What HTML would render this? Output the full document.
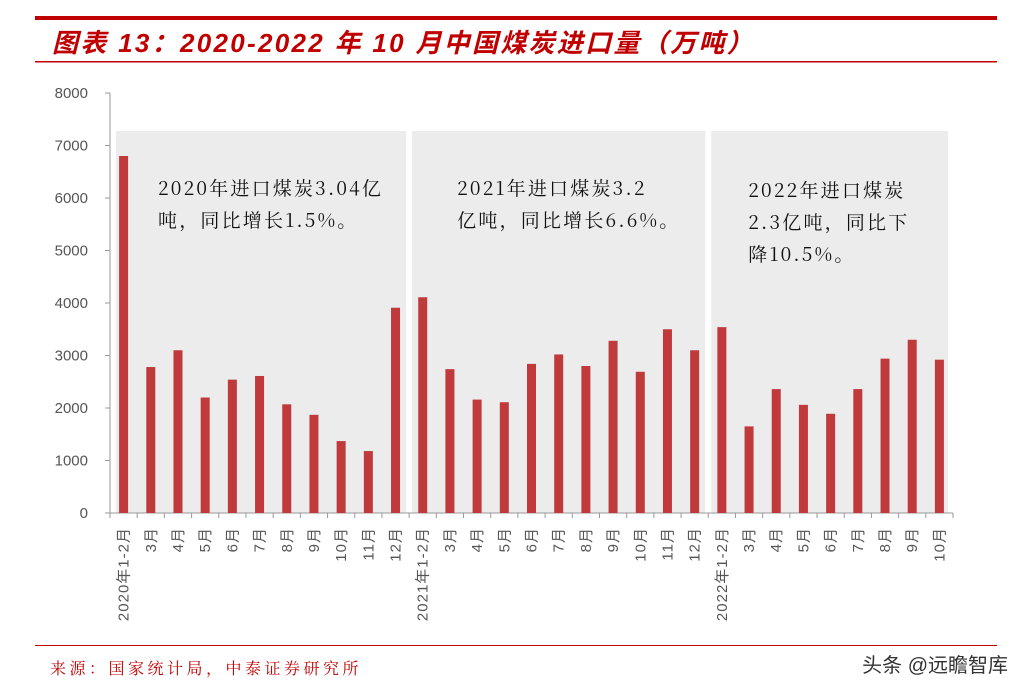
<!DOCTYPE html>
<html><head><meta charset="utf-8"><style>
body{margin:0;background:#fff;}
svg{display:block;font-family:"Liberation Sans","Noto Sans CJK SC",sans-serif;}
</style></head><body>
<svg width="1029" height="694">
<rect x="35" y="16" width="962" height="4" fill="#c00000"/>
<text x="52" y="52" font-size="26" font-weight="bold" font-style="italic" fill="#c00000" letter-spacing="2.3">图表 13：2020-2022 年 10 月中国煤炭进口量（万吨）</text>
<rect x="35" y="61" width="962" height="1.5" fill="#c00000"/>
<g id="plot"></g>
<rect x="35" y="645" width="962" height="1" fill="#c00000"/>
<text x="50" y="674" font-size="16" fill="#c00000" letter-spacing="3.5" font-family="'Noto Serif CJK SC','Liberation Serif',serif">来源：国家统计局，中泰证券研究所</text>
<text x="1008" y="672" font-size="20" fill="#333" text-anchor="end">头条 @远瞻智库</text>
</svg>
<script>
const categories=["2020年1-2月","3月","4月","5月","6月","7月","8月","9月","10月","11月","12月","2021年1-2月","3月","4月","5月","6月","7月","8月","9月","10月","11月","12月","2022年1-2月","3月","4月","5月","6月","7月","8月","9月","10月"];
const imports=[6800,2780,3100,2200,2540,2610,2070,1870,1370,1180,3910,4110,2740,2160,2110,2840,3020,2800,3280,2690,3500,3100,3540,1650,2360,2060,1890,2360,2940,3300,2920];
const yTicks=[0,1000,2000,3000,4000,5000,6000,7000,8000];
const groups=[[0,10,"2020年进口煤炭3.04亿","吨，同比增长1.5%。",""],[11,21,"2021年进口煤炭3.2","亿吨，同比增长6.6%。",""],[22,30,"2022年进口煤炭","2.3亿吨，同比下","降10.5%。"]];
const NS="http://www.w3.org/2000/svg";
const g=document.getElementById('plot');
const x0=110,x1=953,y0=513,yTop=93,yMax=8000;
const step=(x1-x0)/categories.length;
const X=i=>x0+step*(i+0.5);
const Y=v=>y0-(v/yMax)*(y0-yTop);
function mk(t,a){const e=document.createElementNS(NS,t);for(const k in a)e.setAttribute(k,a[k]);g.appendChild(e);return e;}
groups.forEach((gr,gi)=>{
 const left=x0+step*gr[0]+(gi==0?6:3);
 const right=x0+step*(gr[1]+1)-(gi==2?5:3);
 const r=mk('rect',{x:left,y:131,width:right-left,height:y0-131,fill:'#ececec'});
 
 
 const tx=x0+step*gr[0]+(gi==2?40:48);
 [gr[2],gr[3],gr[4]].forEach((s,li)=>{if(!s)return;
  const t=mk('text',{x:tx,y:195+li*32+(gi==2?2:0),'font-size':19,fill:'#111','letter-spacing':2.2,'font-family':'"Noto Serif CJK SC","Liberation Serif",serif'});t.textContent=s;
  
  });
});
yTicks.forEach(v=>{
 const l=mk('line',{x1:x0-5,x2:x0,y1:Y(v),y2:Y(v),stroke:'#999'});
 
 
 const t=mk('text',{x:x0-22,y:Y(v)+5,'font-size':15,fill:'#555','text-anchor':'end'});t.textContent=v;
 
 
});
const ya=mk('line',{x1:x0,x2:x0,y1:yTop,y2:y0,stroke:'#999'});


const xa=mk('line',{x1:x0-5,x2:x1,y1:y0,y2:y0,stroke:'#999'});


imports.forEach((v,i)=>{
 const b=mk('rect',{x:X(i)-4.5,y:Y(v),width:9,height:y0-Y(v),fill:'#c0393b'});
 
 
 const tk=mk('line',{x1:x0+step*i,x2:x0+step*i,y1:y0,y2:y0+5,stroke:'#999'});
 
 
 const t=mk('text',{x:0,y:0,'font-size':15,fill:'#555','text-anchor':'end','letter-spacing':1,transform:`translate(${X(i)+5},${y0+14}) rotate(-90)`});t.textContent=categories[i];
 
 
});
const tk=mk('line',{x1:x1,x2:x1,y1:y0,y2:y0+5,stroke:'#999'});


</script>
</body></html>
